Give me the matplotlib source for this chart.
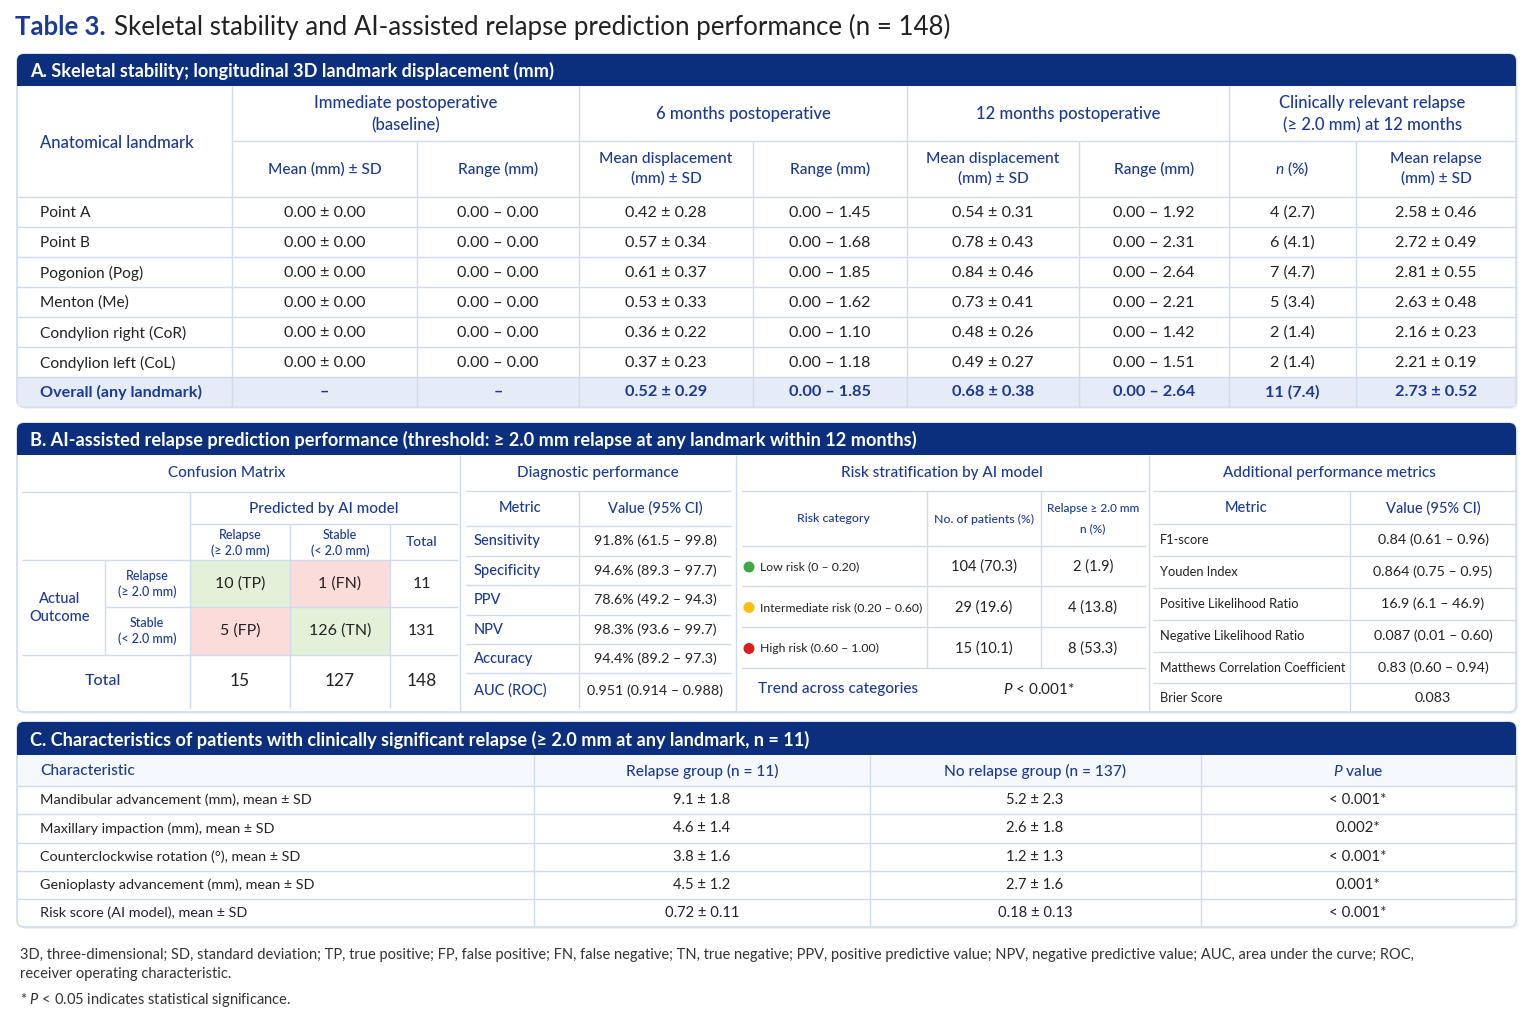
import matplotlib
matplotlib.use("Agg")
import matplotlib.pyplot as plt
from matplotlib.patches import Rectangle, FancyBboxPatch, Circle

plt.rcParams['font.family'] = ['Lato', 'DejaVu Sans']
plt.rcParams['mathtext.fontset'] = 'custom'
plt.rcParams['mathtext.rm'] = 'Lato'
plt.rcParams['mathtext.it'] = 'Lato:italic'
plt.rcParams['mathtext.bf'] = 'Lato:bold'

NAVY = "#0b2f7c"
BLUE = "#1b3a96"
INK = "#222222"
GRID = "#cfdcee"
TINT = "#f5f8fd"
ROWTINT = "#e5ecf8"
HW = "medium"   # header weight

# ---- section A data ----
landmarks = ["Point A", "Point B", "Pogonion (Pog)", "Menton (Me)",
             "Condylion right (CoR)", "Condylion left (CoL)"]
m6_mean = [0.42, 0.57, 0.61, 0.53, 0.36, 0.37]
m6_sd = [0.28, 0.34, 0.37, 0.33, 0.22, 0.23]
m6_max = [1.45, 1.68, 1.85, 1.62, 1.10, 1.18]
m12_mean = [0.54, 0.78, 0.84, 0.73, 0.48, 0.49]
m12_sd = [0.31, 0.43, 0.46, 0.41, 0.26, 0.27]
m12_max = [1.92, 2.31, 2.64, 2.21, 1.42, 1.51]
relapse_n = [4, 6, 7, 5, 2, 2]
relapse_pct = [2.7, 4.1, 4.7, 3.4, 1.4, 1.4]
relapse_mean = [2.58, 2.72, 2.81, 2.63, 2.16, 2.21]
relapse_sd = [0.46, 0.49, 0.55, 0.48, 0.23, 0.19]
overall = ["–", "–", "0.52 ± 0.29", "0.00 – 1.85", "0.68 ± 0.38",
           "0.00 – 2.64", "11 (7.4)", "2.73 ± 0.52"]

# ---- section B data ----
cm_counts = [[10, 1], [5, 126]]          # rows: actual relapse / stable
cm_labels = [["TP", "FN"], ["FP", "TN"]]
row_totals = [11, 131]
col_totals = [15, 127]
grand_total = 148
diag_metrics = ["Sensitivity", "Specificity", "PPV", "NPV", "Accuracy", "AUC (ROC)"]
diag_values = ["91.8% (61.5 – 99.8)", "94.6% (89.3 – 97.7)", "78.6% (49.2 – 94.3)",
               "98.3% (93.6 – 99.7)", "94.4% (89.2 – 97.3)", "0.951 (0.914 – 0.988)"]
risk_cats = ["Low risk (0 – 0.20)", "Intermediate risk (0.20 – 0.60)", "High risk (0.60 – 1.00)"]
risk_colors = ["#3fa845", "#f6c015", "#d81e1e"]
risk_patients = ["104 (70.3)", "29 (19.6)", "15 (10.1)"]
risk_relapse = ["2 (1.9)", "4 (13.8)", "8 (53.3)"]
add_metrics = ["F1-score", "Youden Index", "Positive Likelihood Ratio",
               "Negative Likelihood Ratio", "Matthews Correlation Coefficient", "Brier Score"]
add_values = ["0.84 (0.61 – 0.96)", "0.864 (0.75 – 0.95)", "16.9 (6.1 – 46.9)",
              "0.087 (0.01 – 0.60)", "0.83 (0.60 – 0.94)", "0.083"]

# ---- section C data ----
chars = ["Mandibular advancement (mm), mean ± SD", "Maxillary impaction (mm), mean ± SD",
         "Counterclockwise rotation (°), mean ± SD", "Genioplasty advancement (mm), mean ± SD",
         "Risk score (AI model), mean ± SD"]
relapse_grp = ["9.1 ± 1.8", "4.6 ± 1.4", "3.8 ± 1.6", "4.5 ± 1.2", "0.72 ± 0.11"]
norelapse_grp = ["5.2 ± 2.3", "2.6 ± 1.8", "1.2 ± 1.3", "2.7 ± 1.6", "0.18 ± 0.13"]
p_values = ["< 0.001*", "0.002*", "< 0.001*", "0.001*", "< 0.001*"]

fig = plt.figure(figsize=(15.36, 10.24), dpi=100)
ax = fig.add_axes([0, 0, 1, 1])
ax.set_xlim(0, 1536)
ax.set_ylim(1024, 0)
ax.axis("off")


def txt(x, y, s, size=10.5, color=INK, weight="normal", ha="center", ls=1.45):
    ax.text(x, y, s, fontsize=size, color=color, fontweight=weight, ha=ha, va="center",
            linespacing=ls, zorder=3)


def hl(y, x0, x1, c=GRID, lw=1.0):
    ax.plot([x0, x1], [y, y], color=c, lw=lw, solid_capstyle="butt", zorder=2)


def vl(x, y0, y1, c=GRID, lw=1.0):
    ax.plot([x, x], [y0, y1], color=c, lw=lw, solid_capstyle="butt", zorder=2)


def section(top, band_bot, bottom, title, size):
    ax.add_patch(FancyBboxPatch((19, top + 2), 1499, bottom - top, boxstyle="round,pad=0,rounding_size=7",
                                fc="#eef1f6", ec="none", zorder=0))
    ax.add_patch(FancyBboxPatch((17, top), 1499, bottom - top, boxstyle="round,pad=0,rounding_size=7",
                                fc="white", ec=GRID, lw=1.2, zorder=0.2))
    ax.add_patch(FancyBboxPatch((17, top), 1499, band_bot - top, boxstyle="round,pad=0,rounding_size=7",
                                fc=NAVY, ec="none", zorder=1))
    ax.add_patch(Rectangle((17, top + 10), 1499, band_bot - top - 10, fc=NAVY, ec="none", zorder=1))
    txt(30, (top + band_bot) / 2 + 1, title, size=size, color="white", weight="bold", ha="left")


# title
txt(15, 27, "Table 3.", size=18.5, color=BLUE, weight="bold", ha="left")
txt(114, 27, "Skeletal stability and AI-assisted relapse prediction performance (n = 148)",
    size=18.6, color=INK, ha="left")

# ================= Section A =================
section(54, 86, 407, "A. Skeletal stability; longitudinal 3D landmark displacement (mm)", 13.1)
cols = [17, 232, 417, 579, 753, 907, 1079, 1229, 1356, 1516]
rows = [197, 227, 257, 287, 317, 347, 377, 407]
ax.add_patch(Rectangle((18, 377), 1497, 29, fc=ROWTINT, ec="none", zorder=0.5))
hl(141, 232, 1516)
for y in rows[:-1]:
    hl(y, 17, 1516)
for i, x in enumerate(cols[1:-1]):
    vl(x, 86 if i % 2 == 0 else 141, 407)

txt(40, 143, "Anatomical landmark", size=11.9, color=BLUE, weight=HW, ha="left")
groups = ["Immediate postoperative\n(baseline)", "6 months postoperative",
          "12 months postoperative", "Clinically relevant relapse\n(≥ 2.0 mm) at 12 months"]
for g, label in enumerate(groups):
    txt((cols[1 + 2 * g] + cols[3 + 2 * g]) / 2, 114, label, size=12, color=BLUE, weight=HW)
subs = ["Mean (mm) ± SD", "Range (mm)", "Mean displacement\n(mm) ± SD", "Range (mm)",
        "Mean displacement\n(mm) ± SD", "Range (mm)", r"$\mathit{n}$ (%)", "Mean relapse\n(mm) ± SD"]
for k, label in enumerate(subs):
    txt((cols[1 + k] + cols[2 + k]) / 2, 169, label, size=11.2, color=BLUE, weight=HW)

for r, name in enumerate(landmarks):
    y = (rows[r] + rows[r + 1]) / 2 + 1
    vals = ["0.00 ± 0.00", "0.00 – 0.00",
            f"{m6_mean[r]:.2f} ± {m6_sd[r]:.2f}", f"0.00 – {m6_max[r]:.2f}",
            f"{m12_mean[r]:.2f} ± {m12_sd[r]:.2f}", f"0.00 – {m12_max[r]:.2f}",
            f"{relapse_n[r]} ({relapse_pct[r]:.1f})", f"{relapse_mean[r]:.2f} ± {relapse_sd[r]:.2f}"]
    txt(40, y, name, size=11.2, ha="left")
    for k, v in enumerate(vals):
        txt((cols[1 + k] + cols[2 + k]) / 2, y, v, size=11.6)
txt(40, 392, "Overall (any landmark)", size=11.6, color=BLUE, weight="bold", ha="left")
for k, v in enumerate(overall):
    txt((cols[1 + k] + cols[2 + k]) / 2, 392, v, size=11.8, color=BLUE, weight="bold")

# ================= Section B =================
section(423, 455, 712, "B. AI-assisted relapse prediction performance (threshold: ≥ 2.0 mm relapse at any landmark within 12 months)", 13.1)
for x in (460, 736, 1149):
    vl(x, 455, 712)

# confusion matrix
txt(227, 473, "Confusion Matrix", size=11, color=BLUE, weight=HW)
hl(492, 22, 458)
txt(324, 509, "Predicted by AI model", size=11, color=BLUE, weight=HW)
hl(524, 190, 458)
txt(240, 543, "Relapse\n(≥ 2.0 mm)", size=9, color=BLUE, ls=1.3, weight=HW)
txt(340, 543, "Stable\n(< 2.0 mm)", size=9, color=BLUE, ls=1.3, weight=HW)
txt(422, 542, "Total", size=10, color=BLUE, weight=HW)
hl(560, 22, 458)
cm_fill = [["#e3f1d9", "#fbdcdb"], ["#fbdcdb", "#e3f1d9"]]
row_y = [(560, 607), (607, 655)]
col_x = [(190, 290), (290, 390)]
for i in range(2):
    for j in range(2):
        x0, x1 = col_x[j]
        y0, y1 = row_y[i]
        ax.add_patch(Rectangle((x0, y0), x1 - x0, y1 - y0, fc=cm_fill[i][j], ec="none", zorder=0.5))
        txt((x0 + x1) / 2, (y0 + y1) / 2, f"{cm_counts[i][j]} ({cm_labels[i][j]})", size=11.5)
    txt(422, sum(row_y[i]) / 2, f"{row_totals[i]}", size=11.5)
txt(60, 608, "Actual\nOutcome", size=10.5, color=BLUE, ls=1.35, weight=HW)
txt(147, 584, "Relapse\n(≥ 2.0 mm)", size=9, color=BLUE, ls=1.3, weight=HW)
txt(147, 631, "Stable\n(< 2.0 mm)", size=9, color=BLUE, ls=1.3, weight=HW)
hl(607, 105, 458)
hl(655, 22, 458)
txt(103, 681, "Total", size=11.5, color=BLUE, weight=HW)
txt(240, 681, f"{col_totals[0]}", size=12.5)
txt(340, 681, f"{col_totals[1]}", size=12.5)
txt(422, 681, f"{grand_total}", size=12.5)
vl(190, 492, 708)
vl(290, 524, 708)
vl(390, 524, 708)
vl(105, 560, 655)

# diagnostic performance
txt(598, 473, "Diagnostic performance", size=11, color=BLUE, weight=HW)
hl(491, 466, 731)
txt(520, 508, "Metric", size=10.5, color=BLUE, weight=HW)
txt(655, 508, "Value (95% CI)", size=10.5, color=BLUE, weight=HW)
vl(579, 491, 708)
diag_rows = [526, 556, 585, 615, 644, 673, 708]
for y in diag_rows[:-1]:
    hl(y, 466, 731)
for r, (m, v) in enumerate(zip(diag_metrics, diag_values)):
    y = (diag_rows[r] + diag_rows[r + 1]) / 2
    txt(474, y, m, size=10.5, color=BLUE, weight=HW, ha="left")
    txt(655, y, v, size=10.3)

# risk stratification
txt(942, 473, "Risk stratification by AI model", size=11, color=BLUE, weight=HW)
hl(491, 742, 1146)
txt(833, 519, "Risk category", size=8.8, color=BLUE, weight=HW)
txt(984, 519, "No. of patients (%)", size=8.8, color=BLUE, weight=HW)
txt(1093, 519, "Relapse ≥ 2.0 mm\nn (%)", size=8.6, color=BLUE, ls=2.0, weight=HW)
vl(927, 491, 668)
vl(1041, 491, 668)
risk_rows = [546, 586, 627, 668]
for y in risk_rows:
    hl(y, 742, 1146)
for r in range(3):
    y = (risk_rows[r] + risk_rows[r + 1]) / 2 + 1
    ax.add_patch(Circle((749, y), 5.5, fc=risk_colors[r], ec="none", zorder=2))
    txt(760, y, risk_cats[r], size=8.8, ha="left")
    txt(984, y, risk_patients[r], size=10.5)
    txt(1093, y, risk_relapse[r], size=10.5)
txt(838, 689, "Trend across categories", size=11, color=BLUE, weight=HW)
txt(1039, 689, r"$\mathit{P}$ < 0.001*", size=11)

# additional metrics
txt(1329, 473, "Additional performance metrics", size=11, color=BLUE, weight=HW)
hl(491, 1153, 1516)
txt(1246, 508, "Metric", size=10.5, color=BLUE, weight=HW)
txt(1433, 508, "Value (95% CI)", size=10.5, color=BLUE, weight=HW)
vl(1350, 491, 712)
add_rows = [524, 556, 588, 620, 652, 683, 712]
for y in add_rows[:-1]:
    hl(y, 1153, 1516)
for r, (m, v) in enumerate(zip(add_metrics, add_values)):
    y = (add_rows[r] + add_rows[r + 1]) / 2
    txt(1160, y, m, size=9.0 if r == 4 else 9.3, ha="left")
    txt(1433, y, v, size=10.3)

# ================= Section C =================
section(722, 755, 927, "C. Characteristics of patients with clinically significant relapse (≥ 2.0 mm at any landmark, n = 11)", 13.1)
ax.add_patch(Rectangle((18, 755), 1497, 31, fc=TINT, ec="none", zorder=0.5))
c_cols = [17, 534, 870, 1201, 1516]
c_rows = [786, 814, 843, 871, 899, 927]
for y in c_rows[:-1]:
    hl(y, 17, 1516)
for x in c_cols[1:-1]:
    vl(x, 755, 927)
txt(40, 771, "Characteristic", size=11.2, color=BLUE, weight=HW, ha="left")
txt(702, 771, "Relapse group (n = 11)", size=11.2, color=BLUE, weight=HW)
txt(1035, 771, "No relapse group (n = 137)", size=11.2, color=BLUE, weight=HW)
txt(1358, 771, r"$\mathit{P}$ value", size=11.2, color=BLUE, weight=HW)
for r in range(len(chars)):
    y = (c_rows[r] + c_rows[r + 1]) / 2
    txt(40, y, chars[r], size=10.4, ha="left")
    txt(702, y, relapse_grp[r], size=10.6)
    txt(1035, y, norelapse_grp[r], size=10.6)
    txt(1358, y, p_values[r], size=10.8)

# footnotes
txt(20, 955, "3D, three-dimensional; SD, standard deviation; TP, true positive; FP, false positive; FN, false negative; "
    "TN, true negative; PPV, positive predictive value; NPV, negative predictive value; AUC, area under the curve; ROC,",
    size=10.5, color="#333333", ha="left")
txt(20, 974, "receiver operating characteristic.", size=10.5, color="#333333", ha="left")
txt(20, 1000, r"* $\mathit{P}$ < 0.05 indicates statistical significance.", size=10.5, color="#333333", ha="left")

fig.savefig("out.png", dpi=100)
